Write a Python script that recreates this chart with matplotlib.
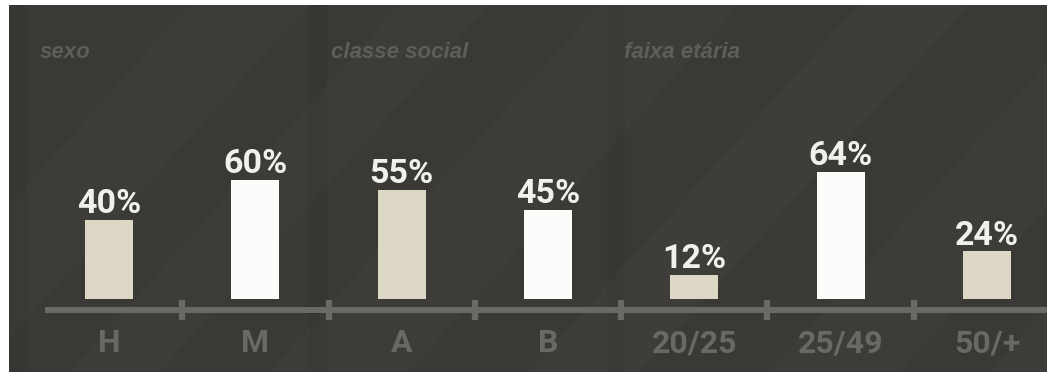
import matplotlib
matplotlib.use("Agg")
import matplotlib.pyplot as plt
from matplotlib.patches import Polygon
import numpy as np

# data
groups = ["sexo", "classe social", "faixa etária"]
group_sizes = [2, 2, 3]
categories = ["H", "M", "A", "B", "20/25", "25/49", "50/+"]
values = [40, 60, 55, 45, 12, 64, 24]

BG = "#3a3935"
BEIGE = "#ddd8c6"
WHITE = "#fcfcfa"
AXIS = "#6b6966"
LABEL = "#6a6864"
TITLE = "#5f5d59"
NARROW = ["Roboto", "DejaVu Sans"]

fig = plt.figure(figsize=(10.47, 3.72), dpi=100)
fig.patch.set_facecolor("white")

# dark panel (white border at top and left)
W, H = 1047, 372
bg = fig.add_axes([9 / W, 0, 1 - 9 / W, 1 - 5 / H])
bg.set_xlim(0, 1038)
bg.set_ylim(0, 367)
bg.axis("off")
bg.add_patch(plt.Rectangle((0, 0), 1038, 367, color=BG, zorder=0))
# subtle diagonal stripes
for x0, w, a in [(-150, 120, 0.02), (60, 90, 0.018), (260, 140, 0.02),
                 (520, 110, 0.022), (760, 130, 0.018), (980, 120, 0.02)]:
    bg.add_patch(Polygon([(x0, 0), (x0 + w, 0), (x0 + w + 330, 367), (x0 + 330, 367)],
                         closed=True, color="white", alpha=a, lw=0, zorder=1))
# subtle darker group separators
for xs in [0, 300, 598]:
    bg.add_patch(plt.Rectangle((xs, 0), 18, 367, color="black", alpha=0.035, lw=0, zorder=1))

# chart axes, same area
ax = fig.add_axes([9 / W, 0, 1 - 9 / W, 1 - 5 / H])
ax.patch.set_alpha(0)
for s in ax.spines.values():
    s.set_visible(False)
ax.set_xticks([])
ax.set_yticks([])

px_per_unit = 146.33
px_per_pct = 1.98
ax.set_xlim((9 - 109) / px_per_unit, 6 + (1047 - 987) / px_per_unit)
ax.set_ylim(-(372 - 299) / px_per_pct, (299 - 5) / px_per_pct)

x = np.arange(len(categories))
colors = [BEIGE if i % 2 == 0 else WHITE for i in range(len(categories))]
ax.bar(x, values, width=0.33, color=colors, zorder=3)

# baseline axis with ticks between bars
ax.plot([-0.44, 7], [-5.6, -5.6], color=AXIS, lw=4.3, solid_capstyle="butt", zorder=2)
for t in x[:-1] + 0.5:
    ax.plot([t, t], [-10.6, -0.6], color=AXIS, lw=4.5, solid_capstyle="butt", zorder=2)

for xi, v in zip(x, values):
    ax.annotate(f"{v}%", (xi, v), xytext=(0, 5), textcoords="offset points",
                ha="center", va="baseline", color="#f2f0ea", fontsize=24.5,
                fontweight="bold", family=NARROW, zorder=4)
    ax.text(xi, -26.8, categories[xi], ha="center", va="baseline", color=LABEL,
            fontsize=23, fontweight="bold", family=NARROW, zorder=4)

# group titles
start = 0
for g, n in zip(groups, group_sizes):
    ax.text(start - 0.5 + 0.02 if start else -0.47, (299 - 58) / px_per_pct, g,
            ha="left", va="baseline", color=TITLE, fontsize=16,
            fontweight="bold", fontstyle="italic", family=["Liberation Sans", "DejaVu Sans"])
    start += n

fig.savefig("out.png", dpi=100, facecolor=fig.get_facecolor())
